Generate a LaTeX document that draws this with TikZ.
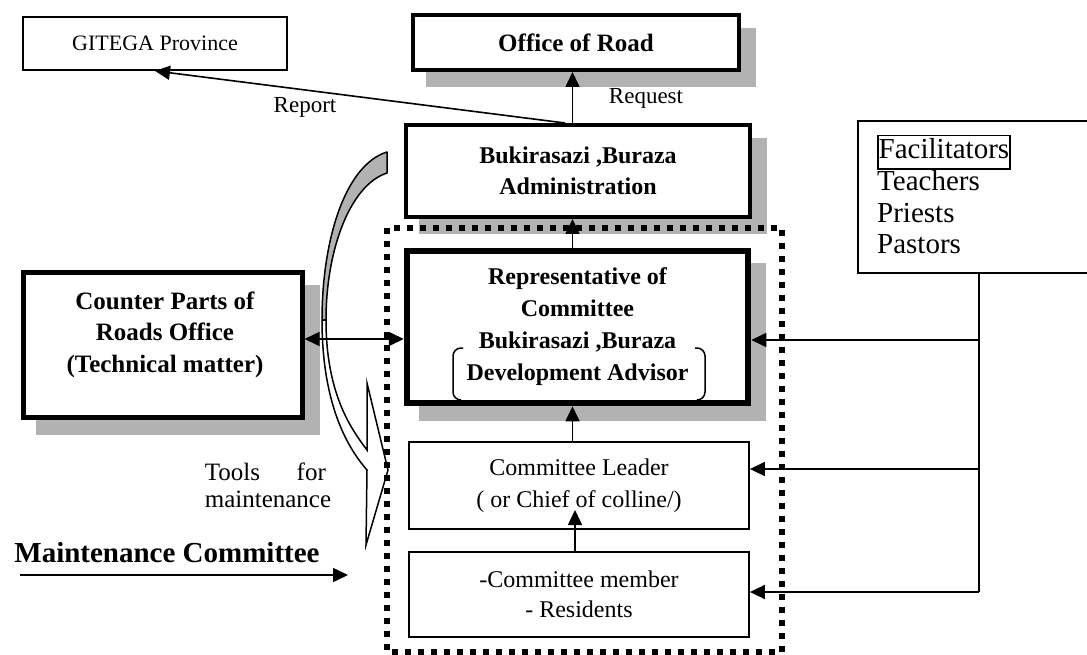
\documentclass[tikz,border=0pt]{standalone}
\usepackage{fontspec}
\setmainfont{Liberation Serif}
\usetikzlibrary{arrows.meta,backgrounds}
\newcommand\myfs[2]{\fontsize{#1}{#2}\selectfont}
\definecolor{shadowgray}{RGB}{178,178,178}

\begin{document}
\begin{tikzpicture}[x=1pt,y=-1pt,
  box/.style={draw, rectangle, inner sep=0pt, align=center, fill=white},
  thinbox/.style={box, line width=1.8pt},
  medbox/.style={box, line width=4pt},
  heavybox/.style={box, line width=6.5pt},
  tip/.tip={Triangle[length=15pt,width=14pt]},
  conn/.style={line width=1.6pt, -tip},
  bothconn/.style={line width=1.6pt, tip-tip},
  plain/.style={line width=1.6pt},
  txt/.style={inner sep=0pt, align=center},
  group/.style={line width=6pt, dash pattern=on 6pt off 7pt},
  callout/.style={line width=1.5pt, line join=round},
  bracket/.style={line width=1.5pt, rounded corners=8pt}]

\useasboundingbox (0,0) rectangle (1087,655);

% ---- boxes ----
\node[thinbox, minimum width=264pt, minimum height=53pt, font=\myfs{22}{26}] (git) at (155,43.5) {GITEGA Province};
\node[medbox, minimum width=326pt, minimum height=55pt, font=\myfs{25}{30}\bfseries] (ofc) at (576,42.5) {Office of Road};
\node[medbox, minimum width=344pt, minimum height=92pt, font=\myfs{24}{31}\bfseries] (adm) at (578,171) {Bukirasazi ,Buraza\\Administration};
\node[heavybox, minimum width=341pt, minimum height=152pt, font=\myfs{24}{32}\bfseries] (rep) at (577.5,327) {Representative of\\Committee\\Bukirasazi ,Buraza\\Development Advisor};
\node[box, line width=5pt, minimum width=279pt, minimum height=145pt] (cp) at (162.5,344.5) {};
\node[txt, font=\myfs{25}{31.5}\bfseries] (cptxt) at (165,334.5) {Counter Parts of\\Roads Office\\(Technical matter)};
\node[thinbox, minimum width=340pt, minimum height=87pt, font=\myfs{24}{32}] (lead) at (579,485.5) {Committee Leader\\( or Chief of colline/)};
\node[thinbox, minimum width=340pt, minimum height=85pt, font=\myfs{24}{30}] (mem) at (579,594.5) {-Committee member\\- Residents};
\node[thinbox, minimum width=263pt, minimum height=152pt, anchor=north west] (fac) at (857,120) {};
\node[txt, align=left, anchor=west, font=\myfs{29}{31.7}] (faclist) at (877,194.5)
  {\setlength\fboxsep{0pt}\setlength\fboxrule{1.5pt}\fbox{\strut Facilitators}\\Teachers\\Priests\\Pastors};

% ---- shadows ----
\begin{scope}[on background layer]
  \foreach \n in {ofc,adm,rep,cp}
    \fill[shadowgray] ([shift={(15pt,-15pt)}]\n.north west) rectangle ([shift={(15pt,-15pt)}]\n.south east);
\end{scope}

% ---- bracket pair round the advisor lines ----
\draw[bracket] (463,348) -- (453,348) -- (453,400) -- (461,400);
\draw[bracket] (695,348) -- (705,348) -- (705,400) -- (697,400);

% ---- curved arrow: tools for maintenance ----
\filldraw[callout, fill=shadowgray] (387,152) .. controls (345,165) and (322,240) .. (322,320)
  -- (326,320) .. controls (326,250) and (350,185) .. (387,173) -- cycle;
\filldraw[callout, fill=white, line join=miter] (322,320) .. controls (322,400) and (345,445) .. (367,470)
  -- (366,545) -- (388,470) -- (367,383) -- (367,450)
  .. controls (352,430) and (326,395) .. (326,320) -- cycle;

% ---- maintenance committee frame ----
\draw[group] (387,228) rectangle (782,652);

% ---- labels ----
\node[txt, font=\myfs{23}{27}] (rpt) at (305,107) {Report};
\node[txt, font=\myfs{23}{27}] (req) at (646,98) {Request};
\node[txt, align=left, font=\myfs{25}{27}] (tools) at (268,485.5) {\makebox[121pt][s]{Tools for}\\maintenance};
\node[txt, font=\myfs{29}{33}\bfseries] (mc) at (167,553) {Maintenance Committee};

% ---- connectors ----
\coordinate (axis) at (572.5,0);
\draw[conn] (axis |- adm.north) -- (axis |- ofc.south);
\draw[conn] (axis |- rep.north) -- (axis |- adm.south);
\draw[conn] (axis |- lead.north) -- (axis |- rep.south);
\coordinate (leadtip) at ([xshift=-4pt,yshift=-24.5pt]lead.center);
\draw[conn] (leadtip |- mem.north) -- (leadtip);

\coordinate (repstart) at ([xshift=-13pt]adm.north);
\draw[conn] (repstart) -- (git.south);

\coordinate (cpout) at ([yshift=5.5pt]cp.east);
\draw[bothconn] (cpout) -- (rep.west |- cpout);

\coordinate (repin) at ([yshift=-13pt]rep.east);
\coordinate (leadin) at ([yshift=16.5pt]lead.east);
\coordinate (memin) at ([yshift=2.5pt]mem.east);
\coordinate (trunk) at (979,592);
\draw[plain] (fac.south -| trunk) -- (trunk);
\draw[conn] (trunk |- repin) -- (repin);
\draw[conn] (trunk |- leadin) -- (leadin);
\draw[conn] (trunk |- memin) -- (memin);

\coordinate (mcfrom) at (20,575);
\coordinate (mcto) at (348,575);
\draw[conn] (mcfrom) -- (mcto);

\end{tikzpicture}
\end{document}
